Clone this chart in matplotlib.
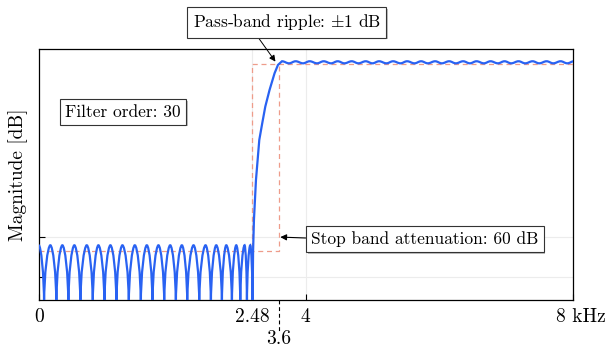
import matplotlib
matplotlib.use("Agg")
import matplotlib.pyplot as plt
import matplotlib.patheffects as pe
from matplotlib.path import Path
from matplotlib.patches import PathPatch
from matplotlib.transforms import ScaledTranslation, blended_transform_factory

plt.rcParams["font.family"] = "cmr10"
plt.rcParams["mathtext.fontset"] = "cm"
plt.rcParams["axes.unicode_minus"] = False
plt.rcParams["axes.formatter.use_mathtext"] = True

# stop band lobes (kHz / dB)
stop_peaks = [0.0, 0.174, 0.354, 0.534, 0.720, 0.894, 1.074, 1.254, 1.440, 1.620,
              1.794, 1.970, 2.145, 2.320, 2.500, 2.660, 2.810, 2.960, 3.085, 3.170]
stop_nulls = [0.080, 0.264, 0.444, 0.624, 0.810, 0.984, 1.164, 1.350, 1.530, 1.704,
              1.880, 2.055, 2.225, 2.405, 2.580, 2.745, 2.895, 3.020, 3.120, 3.204]
stop_peak_db = -58.1

# transition band
rise_khz = [3.212, 3.225, 3.255, 3.305, 3.350, 3.395, 3.459, 3.534, 3.585]
rise_db = [-60.0, -50.0, -37.4, -24.6, -19.2, -14.0, -8.7, -3.4, -0.76]

# pass band ripple
pass_peaks = [3.645, 3.85, 4.06, 4.27, 4.48, 4.69, 4.90, 5.10, 5.31, 5.52, 5.73,
              5.94, 6.15, 6.36, 6.56, 6.77, 6.98, 7.19, 7.40, 7.61, 7.82, 8.02]
pass_troughs = [3.75, 3.96, 4.17, 4.38, 4.58, 4.79, 5.00, 5.21, 5.42, 5.63, 5.83,
                6.04, 6.25, 6.46, 6.67, 6.88, 7.08, 7.29, 7.50, 7.71, 7.92]
pass_peak_db = 0.4
pass_trough_db = -0.25

# spec mask
stop_edge, pass_edge = 3.2, 3.6
stop_level, pass_level = -60, -0.45

xticks = [0, 3.2, 4, 8]
xtick_labels = ["0", "2.48", "4", "8 kHz"]
yticks = [-68.3, -55.5]
y_min, y_max = -75.5, 4.3

blue = "#2962f2"
mask_col = "#ee9c8a"

fig = plt.figure(figsize=(6.08, 3.47), dpi=100)
ax = fig.add_axes([0.0637, 0.1354, 0.8781, 0.7234])
ax.set_xlim(0, 8)
ax.set_ylim(y_min, y_max)

# sequence of curve points: 'ext' = smooth extremum, 'null' = notch, 'lin' = plain point
pts = []
for p, n in zip(stop_peaks, stop_nulls):
    pts.append((p, stop_peak_db, "ext"))
    pts.append((n, y_min - 2, "null"))
for x, y in zip(rise_khz, rise_db):
    pts.append((x, y, "lin"))
for i, p in enumerate(pass_peaks):
    pts.append((p, pass_peak_db, "ext"))
    if i < len(pass_troughs):
        pts.append((pass_troughs[i], pass_trough_db, "ext"))

verts = [pts[0][:2]]
codes = [Path.MOVETO]
for a, b in zip(pts[:-1], pts[1:]):
    xa, ya, ka = a
    xb, yb, kb = b
    if ka == "lin" or kb == "lin":
        verts.append((xb, yb))
        codes.append(Path.LINETO)
        continue
    c1 = (xa, ya + 0.55 * (yb - ya)) if ka == "null" else (xa + 0.4 * (xb - xa), ya)
    c2 = (xb, yb + 0.55 * (ya - yb)) if kb == "null" else (xb - 0.4 * (xb - xa), yb)
    verts += [c1, c2, (xb, yb)]
    codes += [Path.CURVE4] * 3

# grid
for x in [3.2, 4]:
    ax.axvline(x, color="#ececec", lw=0.8, zorder=0)
for y in yticks:
    ax.axhline(y, color="#ececec", lw=0.8, zorder=0)

# mask
ax.plot([0, pass_edge, pass_edge], [stop_level, stop_level, pass_level],
        color=mask_col, lw=0.9, ls=(0, (4, 3)), zorder=1)
ax.plot([stop_edge, stop_edge, 8], [y_min, pass_level, pass_level],
        color=mask_col, lw=0.9, ls=(0, (4, 3)), zorder=1)

ax.add_patch(PathPatch(Path(verts, codes), fill=False, edgecolor=blue, lw=1.6, zorder=3))

# ticks
ax.set_xticks(xticks)
ax.set_xticklabels(xtick_labels)
ax.set_yticks(yticks)
ax.set_yticklabels([])
ax.tick_params(direction="in", length=4, width=0.8, labelsize=14, pad=6)
ax.tick_params(axis="x", which="minor", direction="out", length=4, width=0.8)
ax.set_xticks([stop_edge], minor=True)
lab = ax.get_xticklabels()[-1]
lab.set_transform(lab.get_transform() + ScaledTranslation(0.08, 0, fig.dpi_scale_trans))
for s in ax.spines.values():
    s.set_linewidth(0.9)

trans = blended_transform_factory(ax.transData, ax.transAxes)
ax.plot([pass_edge, pass_edge], [0, -0.125], color="k", lw=0.8, ls=(0, (3.5, 2.5)),
        transform=trans, clip_on=False)
ax.text(pass_edge, -0.176, "3.6", transform=trans, ha="center", va="baseline", fontsize=14)

ax.set_ylabel("Magnitude [dB]", fontsize=14, labelpad=2)

box = dict(boxstyle="square,pad=0.3", fc="white", ec="#333333", lw=0.8)
shadow = [pe.withSimplePatchShadow(offset=(1.2, -1.2), shadow_rgbFace="0.5", alpha=0.5)]

t1 = ax.text(1.266, -15.7, "Filter order: 30", ha="center", va="center", fontsize=12.5,
             bbox=box, zorder=5)
t1.get_bbox_patch().set_path_effects(shadow)

a1 = ax.annotate("Pass-band ripple: $\\pm$1 dB", xy=(3.547, 0.29), xytext=(3.714, 12.75),
                 ha="center", va="center", fontsize=12.5, bbox=box, annotation_clip=False,
                 arrowprops=dict(arrowstyle="-|>", color="k", lw=0.7, mutation_scale=9,
                                 relpos=(0.33, 0), shrinkA=0, shrinkB=0), zorder=5)
a1.get_bbox_patch().set_path_effects(shadow)

a2 = ax.annotate("Stop band attenuation: 60 dB", xy=(3.62, -55.5), xytext=(5.787, -56.15),
                 ha="center", va="center", fontsize=12.5, bbox=box,
                 arrowprops=dict(arrowstyle="-|>", color="k", lw=0.8, mutation_scale=9,
                                 relpos=(0, 0.56), shrinkA=0, shrinkB=0), zorder=5)
a2.get_bbox_patch().set_path_effects(shadow)

fig.savefig("out.png", dpi=100)
